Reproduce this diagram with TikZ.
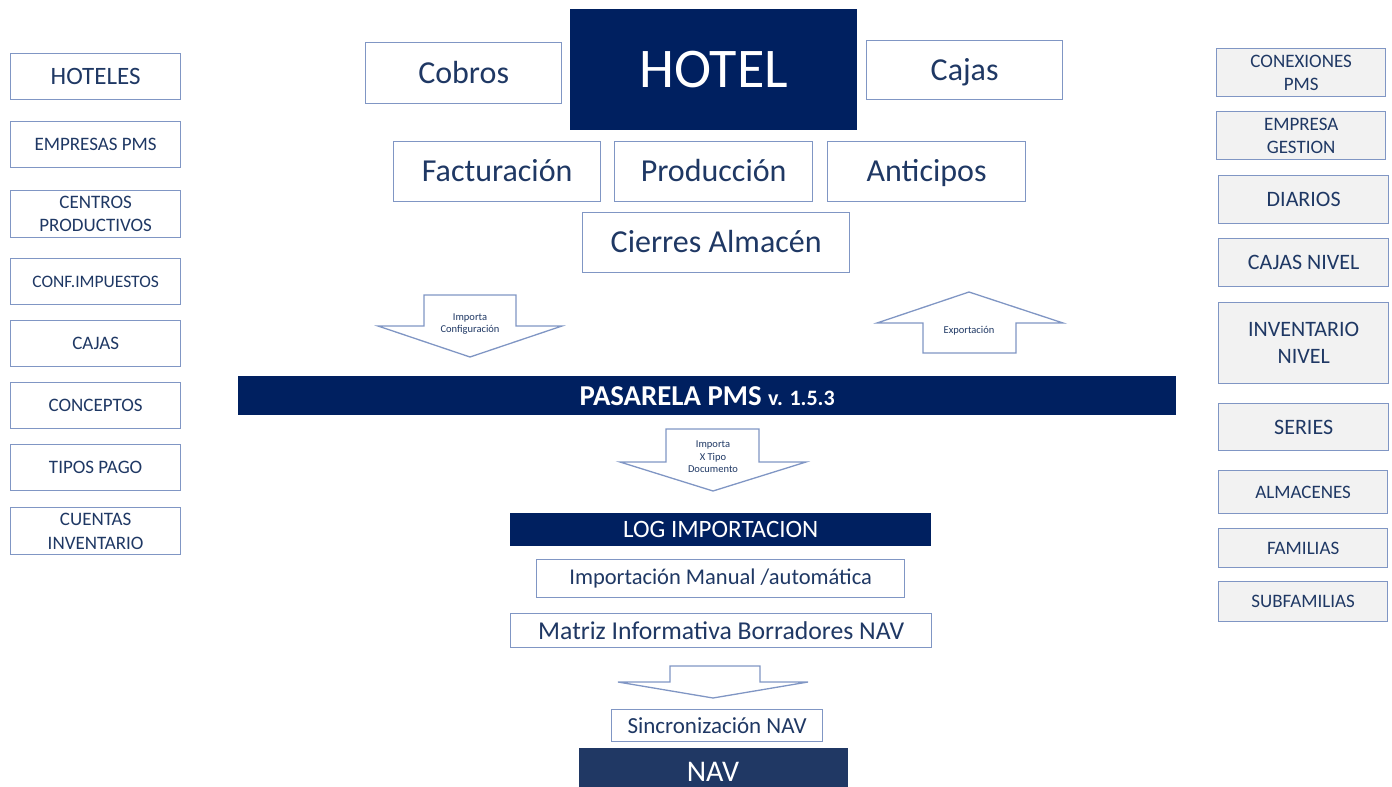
\documentclass[tikz,border=0pt]{standalone}
\usepackage{fontspec}
\setmainfont{Carlito}
\definecolor{navy}{HTML}{002060}
\definecolor{navb}{HTML}{203864}
\definecolor{txt}{HTML}{1F3864}
\definecolor{bord}{HTML}{8096C4}
\definecolor{lgray}{HTML}{F2F2F2}
\tikzset{
  box/.style={draw=bord, line width=1.3pt, fill=white, text=txt, inner sep=0pt, align=center, anchor=north west},
  gbox/.style={box, fill=lgray},
  dark/.style={fill=navy, text=white, inner sep=0pt, align=center, anchor=north west},
  blk/.style={draw=bord, line width=1.3pt, fill=white, line join=miter},
  small/.style={text=txt, font=\fontsize{10.5}{12.5}\selectfont, align=center, inner sep=0pt},
  fA/.style={font=\fontsize{32}{34}\selectfont, text height=20.6pt, text depth=0pt},
  fL/.style={font=\fontsize{19}{23}\selectfont},
  fM/.style={font=\fontsize{22}{27}\selectfont},
}
\begin{document}
\begin{tikzpicture}[x=1pt,y=-1pt]
\useasboundingbox (0,0) rectangle (1392,787);
% top hotel group
\node[dark, minimum width=287pt, minimum height=121pt, font=\fontsize{56}{58}\selectfont, text height=36pt, text depth=0pt] (hotel) at (570,9) {HOTEL};
\node[box, fA, minimum width=196pt, minimum height=61pt] (cobros) at (365,42) {Cobros};
\node[box, fA, minimum width=196pt, minimum height=59pt] (cajas) at (866,40) {Cajas};
\node[box, fA, minimum width=207pt, minimum height=60pt] (fact) at (393,141) {Facturación};
\node[box, fA, minimum width=198pt, minimum height=60pt] (prod) at (614,141) {Producción};
\node[box, fA, minimum width=198pt, minimum height=60pt] (antic) at (827,141) {Anticipos};
\node[box, fA, minimum width=267pt, minimum height=60pt] (cierres) at (582,212) {Cierres Almacén};
% left column
\node[box, font=\fontsize{25}{27}\selectfont, minimum width=170pt, minimum height=46pt] (l1) at (10,53) {HOTELES};
\node[box, fL, minimum width=170pt, minimum height=46pt] (l2) at (10,121) {EMPRESAS PMS};
\node[box, fL, minimum width=170pt, minimum height=47pt] (l3) at (10,190) {CENTROS\\PRODUCTIVOS};
\node[box, font=\fontsize{17.5}{20}\selectfont, minimum width=170pt, minimum height=46pt] (l4) at (10,258) {CONF.IMPUESTOS};
\node[box, fL, minimum width=170pt, minimum height=46pt] (l5) at (10,320) {CAJAS};
\node[box, fL, minimum width=170pt, minimum height=46pt] (l6) at (10,382) {CONCEPTOS};
\node[box, fL, minimum width=170pt, minimum height=46pt] (l7) at (10,444) {TIPOS PAGO};
\node[box, font=\fontsize{19}{24}\selectfont, minimum width=170pt, minimum height=47pt] (l8) at (10,507) {CUENTAS\\INVENTARIO};
% right column
\node[gbox, font=\fontsize{19}{23}\selectfont, minimum width=169pt, minimum height=48pt] (r1) at (1216,48) {CONEXIONES\\PMS};
\node[gbox, font=\fontsize{19}{23}\selectfont, minimum width=169pt, minimum height=48pt] (r2) at (1216,111) {EMPRESA\\GESTION};
\node[gbox, fM, minimum width=170pt, minimum height=48pt] (r3) at (1218,175) {DIARIOS};
\node[gbox, fM, minimum width=170pt, minimum height=48pt] (r4) at (1218,238) {CAJAS NIVEL};
\node[gbox, fM, minimum width=170pt, minimum height=81pt] (r5) at (1218,302) {INVENTARIO\\NIVEL};
\node[gbox, fM, minimum width=170pt, minimum height=47pt] (r6) at (1218,403) {SERIES};
\node[gbox, fL, minimum width=169pt, minimum height=43pt] (r7) at (1218,470) {ALMACENES};
\node[gbox, fL, minimum width=169pt, minimum height=39pt] (r8) at (1218,528) {FAMILIAS};
\node[gbox, fL, minimum width=169pt, minimum height=40pt] (r9) at (1218,581) {SUBFAMILIAS};
% block arrows
\draw[blk] (424,295) -- (516,295) -- (516,326) -- (562,326) -- (470,357) -- (378,326) -- (424,326) -- cycle;
\node[small] (aimp) at (470,324) {Importa\\Configuración};
\draw[blk] (969,292) -- (1063,323) -- (1016,323) -- (1016,353) -- (923,353) -- (923,323) -- (877,323) -- cycle;
\node[small] (aexp) at (969,331) {Exportación};
% pasarela bar
\node[dark, minimum width=938pt, minimum height=39pt] (pas) at (238,376) {\fontsize{28.8}{30}\selectfont\bfseries PASARELA PMS {\fontsize{22}{22}\selectfont v. 1.5.3}};
\draw[blk] (666,429) -- (759,429) -- (759,462) -- (806,462) -- (713,491) -- (620,462) -- (666,462) -- cycle;
\node[small] (atipo) at (713,457) {Importa\\X Tipo\\Documento};
% log section
\node[dark, minimum width=421pt, minimum height=33pt, font=\fontsize{25}{27}\selectfont] (log) at (510,513) {LOG IMPORTACION};
\node[box, font=\fontsize{22.5}{25}\selectfont, minimum width=368pt, minimum height=38pt] (man) at (536,559) {Importación Manual /automática};
\node[box, font=\fontsize{25.7}{27}\selectfont, minimum width=421pt, minimum height=34pt] (mat) at (510,613) {Matriz Informativa Borradores NAV};
\draw[blk] (670,666) -- (760,666) -- (760,682) -- (808,682) -- (713,698) -- (618,682) -- (670,682) -- cycle;
\node[box, font=\fontsize{23}{25}\selectfont, minimum width=211pt, minimum height=32pt] (sync) at (611,709) {Sincronización NAV};
\fill[navb] (579,748) rectangle (848,787);
\node[text=white, font=\fontsize{30}{32}\selectfont, inner sep=0pt] (nav) at (713,772) {NAV};
\end{tikzpicture}
\end{document}
